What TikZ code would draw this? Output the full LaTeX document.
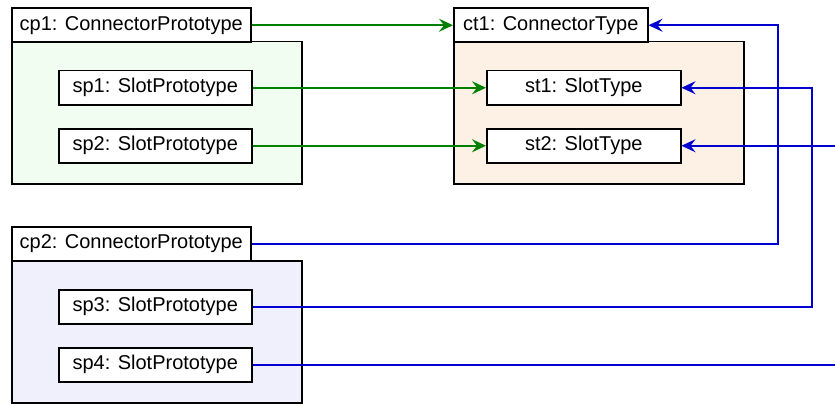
\documentclass[tikz,border=0pt]{standalone}
\usepackage{fontspec}
\setmainfont{Liberation Sans}
\usetikzlibrary{arrows.meta}
\definecolor{linkgreen}{RGB}{0,128,0}
\definecolor{linkblue}{RGB}{0,0,208}
\definecolor{protofill}{RGB}{240,253,240}
\definecolor{typefill}{RGB}{253,240,228}
\definecolor{proto2fill}{RGB}{240,240,253}
\tikzset{
  box/.style={draw=black, line width=1.5pt, fill=white, anchor=north west,
    inner sep=0pt, font=\fontsize{20}{24}\selectfont},
  container/.style={draw=black, line width=1.5pt, anchor=north west, inner sep=0pt},
  greenlink/.style={draw=linkgreen, line width=1.5pt,
    -{Stealth[length=14pt,width=13pt,inset=5pt]}},
  bluelink/.style={draw=linkblue, line width=1.5pt,
    -{Stealth[length=14pt,width=13pt,inset=5pt]}},
}
\begin{document}
\begin{tikzpicture}[x=1pt,y=-1pt]
  \clip (0,0) rectangle (835,404);
  \fill[white] (0,0) rectangle (835,404);

  % containers
  \node[container, fill=protofill, minimum width=290pt, minimum height=142pt] (c1) at (11,41) {};
  \node[container, fill=typefill, minimum width=290pt, minimum height=142pt] (c2) at (453,41) {};
  \node[container, fill=proto2fill, minimum width=290pt, minimum height=142pt] (c3) at (11,260) {};

  % title boxes
  \node[box, minimum width=239pt, minimum height=34pt] (cp1) at (11,7.5) {cp1: ConnectorPrototype};
  \node[box, minimum width=194pt, minimum height=34pt] (ct1) at (453,7.5) {ct1: ConnectorType};
  \node[box, minimum width=239pt, minimum height=34pt] (cp2) at (11,226) {cp2: ConnectorPrototype};

  % slot boxes
  \node[box, minimum width=193pt, minimum height=34pt] (sp1) at (58,70) {sp1: SlotPrototype};
  \node[box, minimum width=193pt, minimum height=34pt] (sp2) at (58,128) {sp2: SlotPrototype};
  \node[box, minimum width=194pt, minimum height=34pt] (st1) at (486,70) {st1: SlotType};
  \node[box, minimum width=194pt, minimum height=34pt] (st2) at (486,128) {st2: SlotType};
  \node[box, minimum width=193pt, minimum height=34pt] (sp3) at (58,289) {sp3: SlotPrototype};
  \node[box, minimum width=193pt, minimum height=34pt] (sp4) at (58,347) {sp4: SlotPrototype};

  % routing columns on the right
  \coordinate (r1) at (778,0);
  \coordinate (r2) at (812,0);
  \coordinate (r3) at (850,0);

  % green links
  \draw[greenlink] (cp1.east) -- (ct1.west);
  \draw[greenlink] (sp1.east) -- (st1.west);
  \draw[greenlink] (sp2.east) -- (st2.west);

  % blue links
  \draw[bluelink] (cp2.east) -- (cp2.east -| r1) |- (ct1.east);
  \draw[bluelink] (sp3.east) -- (sp3.east -| r2) |- (st1.east);
  \draw[bluelink] (sp4.east) -- (sp4.east -| r3) |- (st2.east);
\end{tikzpicture}
\end{document}
